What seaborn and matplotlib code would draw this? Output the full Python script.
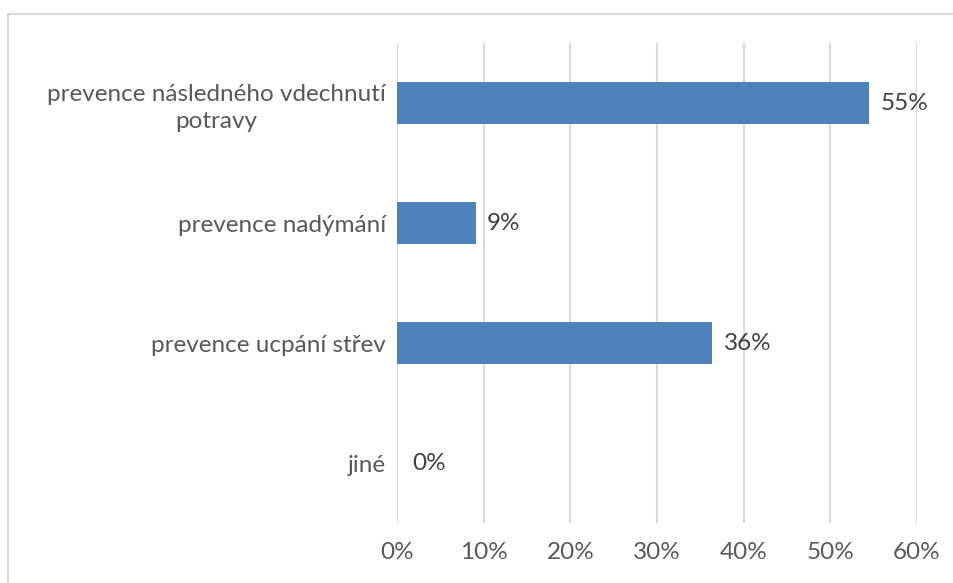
import matplotlib
matplotlib.use("Agg")
import matplotlib.pyplot as plt
import seaborn as sns
import pandas as pd
from matplotlib.patches import Rectangle

categories = ["prevence následného vdechnutí\npotravy", "prevence nadýmání",
              "prevence ucpání střev", "jiné"]
values = [0.545, 0.091, 0.364, 0.0]
value_labels = ["55%", "9%", "36%", "0%"]
tick_vals = [0, 0.1, 0.2, 0.3, 0.4, 0.5, 0.6]
tick_labels = ["0%", "10%", "20%", "30%", "40%", "50%", "60%"]

sns.set_theme(style="white")
plt.rcParams['font.family'] = ['Lato', 'DejaVu Sans']

df = pd.DataFrame({"cat": categories, "val": values})

fig = plt.figure(figsize=(9.54, 5.83), dpi=100)
ax = fig.add_axes([397/954, 1-523/583, (917-397)/954, 480/583])

sns.barplot(data=df, y="cat", x="val", orient="h", color="#4F81BD",
            width=0.35, saturation=1, linewidth=0, ax=ax)

ax.set_xlim(0, 0.6)
ax.set_xticks(tick_vals)
ax.set_xticklabels(tick_labels)
ax.set_xlabel("")
ax.set_ylabel("")
ax.grid(axis="x", color="#D9D9D9", linewidth=1.5)
ax.set_axisbelow(True)
for s in ax.spines.values():
    s.set_visible(False)
ax.tick_params(axis="x", length=0, pad=14, labelsize=17.5, labelcolor="#595959")
ax.tick_params(axis="y", length=0, pad=8, labelsize=17.5, labelcolor="#595959")
for lbl in ax.get_yticklabels():
    lbl.set_multialignment("center")
    lbl.set_linespacing(1.35)

for i, (v, t) in enumerate(zip(values, value_labels)):
    ax.annotate(t, xy=(v, i), xytext=(8 if v > 0 else 11, 0), textcoords="offset points",
                ha="left", va="center", fontsize=17.5, color="#404040")

fig.patches.append(Rectangle((8/954, -0.05), 1.0, 1.05-14/583, transform=fig.transFigure,
                             fill=False, edgecolor="#D9D9D9", linewidth=1.5))

fig.savefig("out.png", dpi=100)
